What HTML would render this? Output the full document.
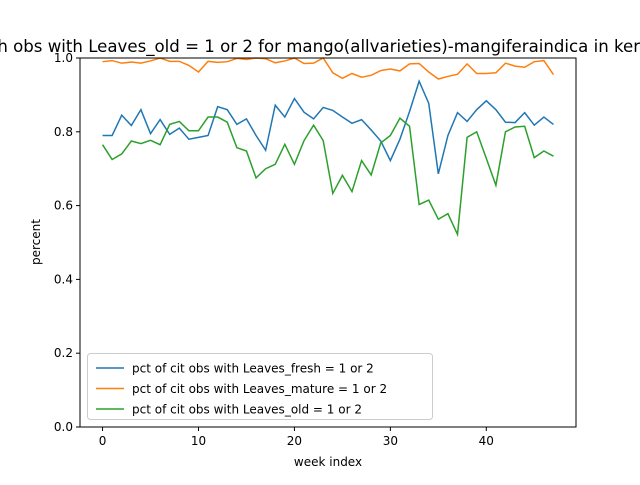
<!DOCTYPE html>
<html><head><meta charset="utf-8"><style>
body{margin:0;background:#fff;overflow:hidden}
svg{font-family:"DejaVu Sans","Liberation Sans",sans-serif}
</style></head><body>
<svg id="c" width="640" height="480">
<rect width="640" height="480" fill="#fff"/>
<text x="665" y="52" text-anchor="end" font-size="16.6">percentage of month obs with Leaves_old = 1 or 2 for mango(allvarieties)-mangiferaindica in kerala</text>
<g id="ax"></g>
<g id="series"></g>
<rect x="80" y="58" width="496" height="369" fill="none" stroke="#000" stroke-width="1"/>
<g id="legend"></g>
</svg>
<script>
const fresh=[0.79,0.79,0.845,0.817,0.86,0.795,0.833,0.793,0.81,0.78,0.785,0.79,0.868,0.86,0.82,0.835,0.79,0.75,0.872,0.84,0.89,0.853,0.835,0.866,0.858,0.84,0.823,0.833,0.805,0.775,0.722,0.78,0.855,0.937,0.877,0.686,0.79,0.852,0.828,0.86,0.884,0.86,0.826,0.825,0.852,0.818,0.84,0.82];
const mature=[0.99,0.993,0.986,0.989,0.986,0.992,1.0,0.991,0.991,0.98,0.962,0.991,0.988,0.99,0.999,0.996,1.0,0.998,0.987,0.992,1.0,0.985,0.986,1.0,0.96,0.945,0.958,0.948,0.953,0.966,0.97,0.965,0.984,0.985,0.962,0.943,0.95,0.956,0.984,0.958,0.958,0.96,0.986,0.978,0.975,0.99,0.993,0.955];
const old=[0.765,0.725,0.74,0.775,0.768,0.777,0.765,0.82,0.828,0.803,0.803,0.84,0.84,0.826,0.757,0.748,0.675,0.7,0.712,0.766,0.712,0.776,0.818,0.776,0.633,0.682,0.638,0.722,0.683,0.77,0.79,0.837,0.815,0.603,0.615,0.563,0.578,0.522,0.785,0.8,0.728,0.655,0.8,0.813,0.815,0.73,0.748,0.734];
const xTicks=[0,10,20,30,40];
const yTicks=[0.0,0.2,0.4,0.6,0.8,1.0];
const seriesNames=["pct of cit obs with Leaves_fresh = 1 or 2","pct of cit obs with Leaves_mature = 1 or 2","pct of cit obs with Leaves_old = 1 or 2"];
const colors=["#1f77b4","#ff7f0e","#2ca02c"];
const NS="http://www.w3.org/2000/svg";
const L=80,R=576,T=58,B=427;
const n=fresh.length, xmin=-(n-1)*0.05, xmax=(n-1)*1.05;
const X=v=>L+(v-xmin)/(xmax-xmin)*(R-L);
const Y=v=>B-v*(B-T);
function mk(t,a,p){const e=document.createElementNS(NS,t);for(const k in a)e.setAttribute(k,a[k]);p.appendChild(e);return e;}
const ax=document.getElementById('ax');
xTicks.forEach(t=>{
 const l=mk('line',{x1:X(t),x2:X(t),y1:B,y2:B+4,stroke:'#000'},ax);
 
 
 const tx=mk('text',{x:X(t),y:B+18,'text-anchor':'middle','font-size':12},ax);tx.textContent=t;
 
 
});
yTicks.forEach(t=>{
 const l=mk('line',{x1:L-4,x2:L,y1:Y(t),y2:Y(t),stroke:'#000'},ax);
 
 
 const tx=mk('text',{x:L-7,y:Y(t)+4,'text-anchor':'end','font-size':12},ax);tx.textContent=t.toFixed(1);
 
 
});
const xl=mk('text',{x:328,y:466,'text-anchor':'middle','font-size':12},ax);xl.textContent='week index';


const yl=mk('text',{x:0,y:0,'text-anchor':'middle','font-size':12,transform:'translate(40,242) rotate(-90)'},ax);yl.textContent='percent';


const sg=document.getElementById('series');
[fresh,mature,old].forEach((d,i)=>{
 const p=mk('polyline',{points:d.map((v,j)=>X(j)+','+Y(v)).join(' '),fill:'none',stroke:colors[i],'stroke-width':1.5},sg);
 
 
});
const lg=document.getElementById('legend');
const box=mk('rect',{x:87.5,y:353.5,width:345,height:66,rx:3,fill:'#fff','fill-opacity':0.8,stroke:'#ccc'},lg);


seriesNames.forEach((s,i)=>{
 const y=368+i*20.5;
 const l=mk('line',{x1:96,x2:124,y1:y,y2:y,stroke:colors[i],'stroke-width':1.5},lg);
 
 
 const t=mk('text',{x:132,y:y+4.5,'font-size':12},lg);t.textContent=s;
 
 
});
</script>
</body></html>
